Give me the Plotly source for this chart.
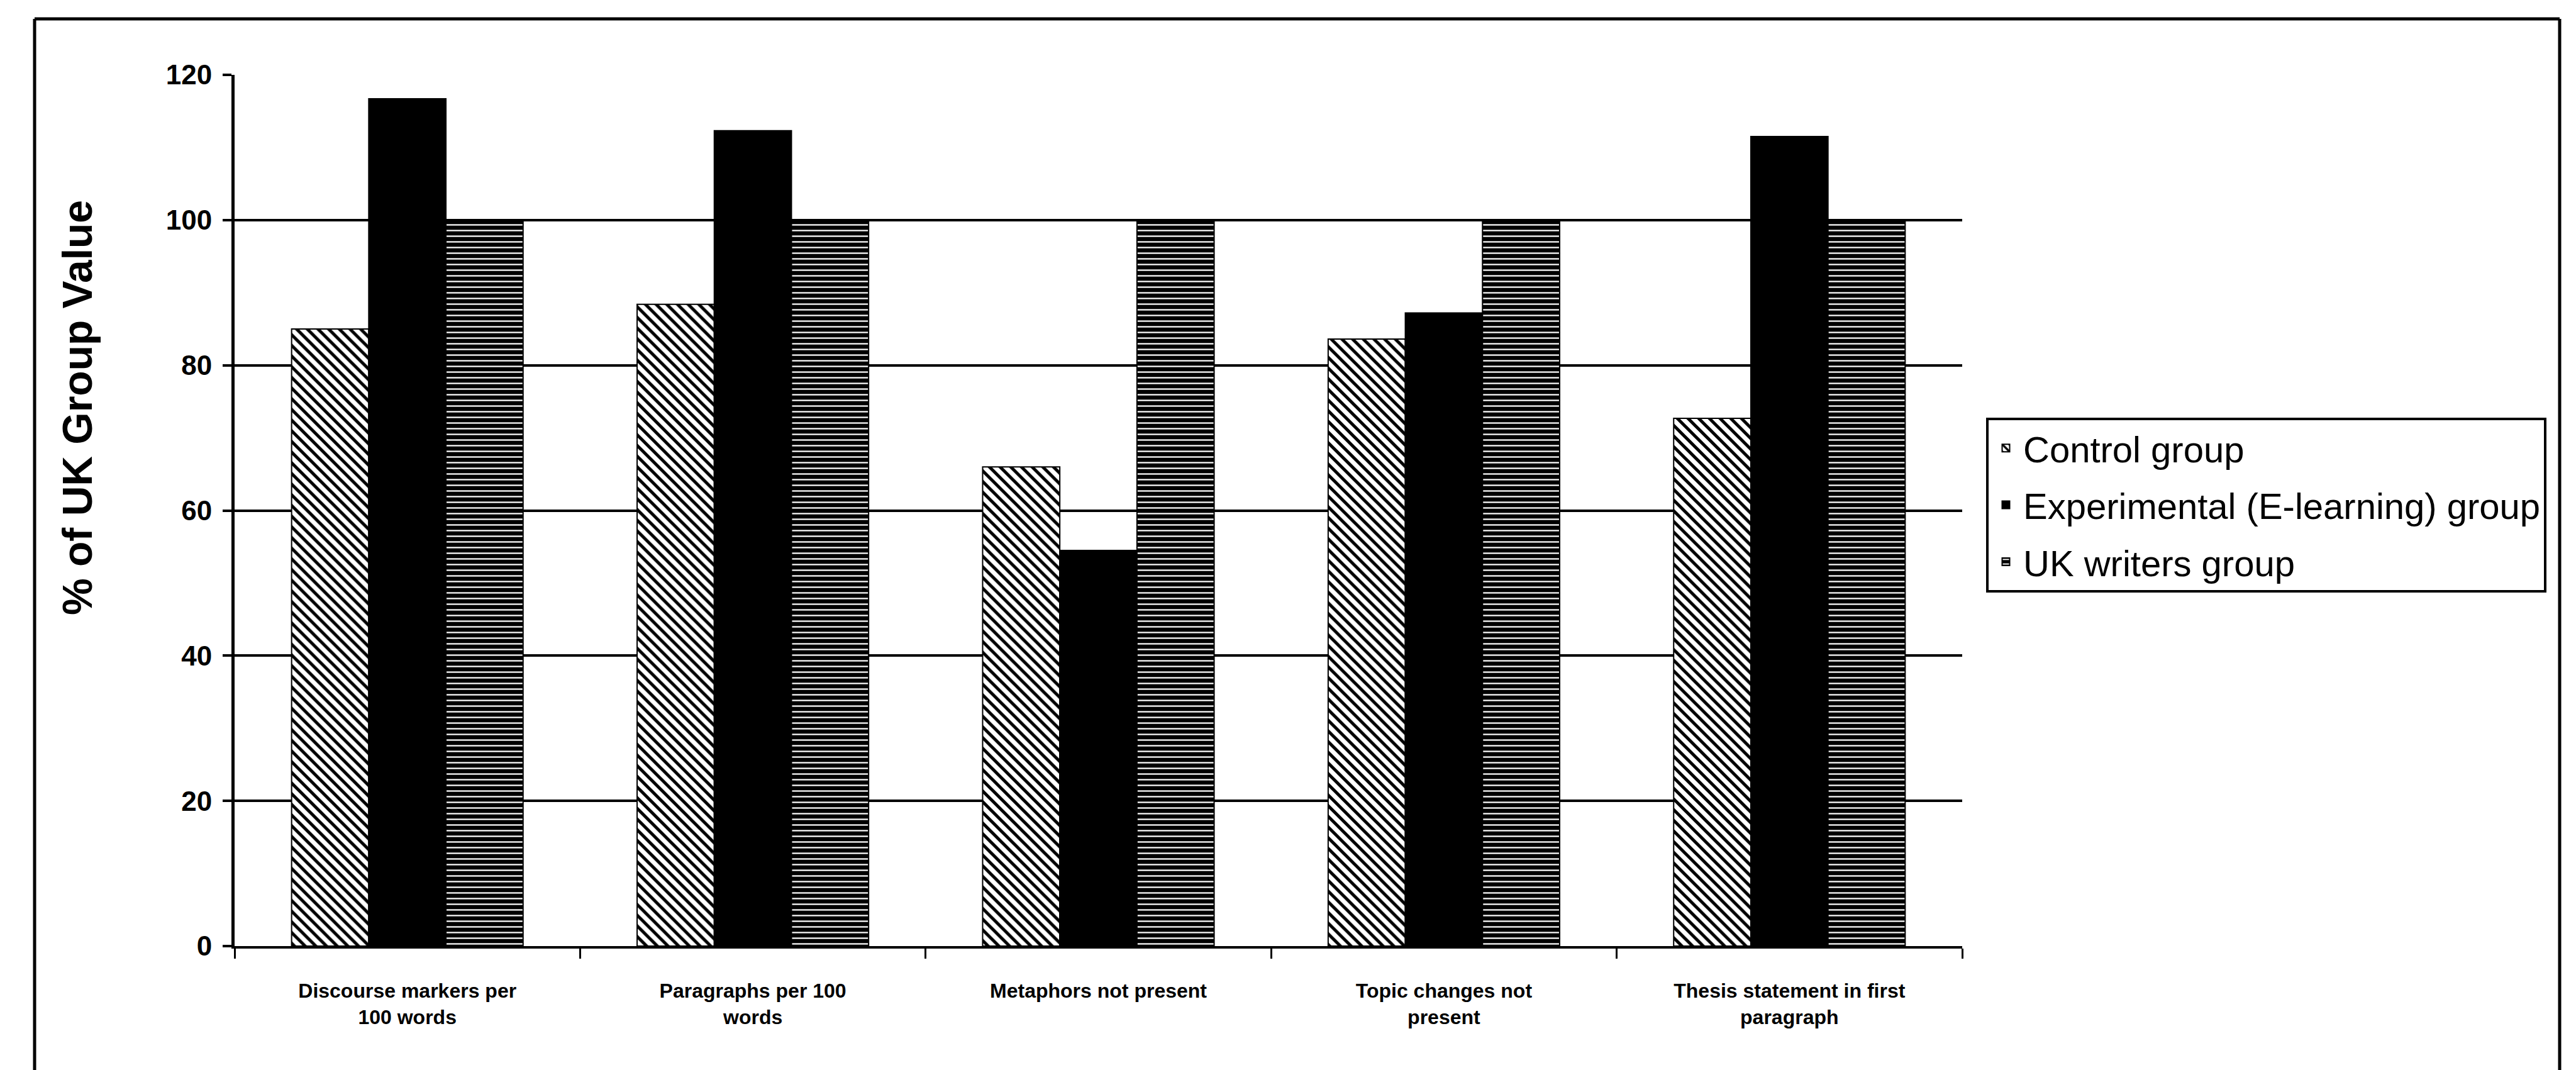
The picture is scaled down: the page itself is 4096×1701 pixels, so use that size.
import plotly.graph_objects as go

categories = [
    "Discourse markers per<br>100 words",
    "Paragraphs per 100<br>words",
    "Metaphors not present",
    "Topic changes not<br>present",
    "Thesis statement in first<br>paragraph",
]
control = [85.0, 88.4, 66.0, 83.6, 72.7]
experimental = [116.7, 112.3, 54.5, 87.2, 111.5]
uk_writers = [100, 100, 100, 100, 100]
y_ticks = [0, 20, 40, 60, 80, 100, 120]

W, H = 4096, 1701
L, R, T, B = 365, 3112, 111, 1496  # plot area in px


def px_x(x):
    return (x - L) / (R - L)


def px_y(y):
    return (B - y) / (B - T)


FONT = "Liberation Sans, Arial, Helvetica, sans-serif"

fig = go.Figure()
fig.add_trace(go.Bar(
    name="Control group", x=categories, y=control, legendgroup="a",
    marker=dict(color="white", line=dict(color="black", width=2),
                pattern=dict(shape="\\", fgcolor="black", bgcolor="white",
                             size=12, solidity=0.42, fillmode="replace")),
))
fig.add_trace(go.Bar(
    name="Experimental (E-learning) group", x=categories, y=experimental, legendgroup="b",
    marker=dict(color="black", line=dict(color="black", width=2)),
))
fig.add_trace(go.Bar(
    name="UK writers group", x=categories, y=uk_writers, legendgroup="c",
    marker=dict(color="black", line=dict(color="black", width=2),
                pattern=dict(shape="-", fgcolor="white", bgcolor="black",
                             size=9, solidity=0.25, fillmode="replace")),
))

shapes = [
    # outer frame (left, top, right) and the faint bottom edge
    dict(type="line", xref="paper", yref="paper", x0=px_x(47), y0=px_y(1700), x1=px_x(47), y1=px_y(22),
         line=dict(color="black", width=5)),
    dict(type="line", xref="paper", yref="paper", x0=px_x(47), y0=px_y(22), x1=px_x(4062), y1=px_y(22),
         line=dict(color="black", width=5)),
    dict(type="line", xref="paper", yref="paper", x0=px_x(4062), y0=px_y(22), x1=px_x(4062), y1=px_y(1700),
         line=dict(color="black", width=5)),
    dict(type="line", xref="paper", yref="paper", x0=px_x(1684), y0=px_y(1698), x1=px_x(3760), y1=px_y(1698),
         line=dict(color="#888888", width=3)),
]

annotations = [
    dict(text="% of UK Group Value", xref="paper", yref="paper",
         x=px_x(115), y=px_y(640), xanchor="center", yanchor="middle",
         textangle=-90, showarrow=False,
         font=dict(size=66, family=FONT, color="black", weight="bold")),
]

fig.update_layout(
    width=W, height=H,
    margin=dict(l=L, r=W - R, t=T, b=H - B, pad=0, autoexpand=False),
    paper_bgcolor="white", plot_bgcolor="white",
    barmode="group", bargap=0.33, bargroupgap=0,
    font=dict(family=FONT, color="black"),
    shapes=shapes,
    annotations=annotations,
    legend=dict(
        x=px_x(3150), y=px_y(656), xanchor="left", yanchor="top",
        bordercolor="black", borderwidth=4, bgcolor="white",
        font=dict(size=58, family=FONT, color="black"),
        tracegroupgap=12, itemwidth=45,
    ),
    xaxis=dict(
        showline=True, linecolor="black", linewidth=4,
        ticks="outside", tickson="boundaries", ticklen=16, tickwidth=3, tickcolor="black",
        tickfont=dict(size=32, family=FONT, color="black", weight="bold"),
        ticklabelstandoff=40,
        showgrid=False,
    ),
    yaxis=dict(
        range=[0, 120], tickvals=y_ticks, ticktext=[str(v) for v in y_ticks],
        showline=True, linecolor="black", linewidth=5,
        ticks="outside", ticklen=14, tickwidth=4, tickcolor="black",
        tickfont=dict(size=44, family=FONT, color="black", weight="bold"),
        ticklabelstandoff=8,
        showgrid=True, gridcolor="black", gridwidth=4, zeroline=False,
    ),
)

fig.write_html("out.html")
